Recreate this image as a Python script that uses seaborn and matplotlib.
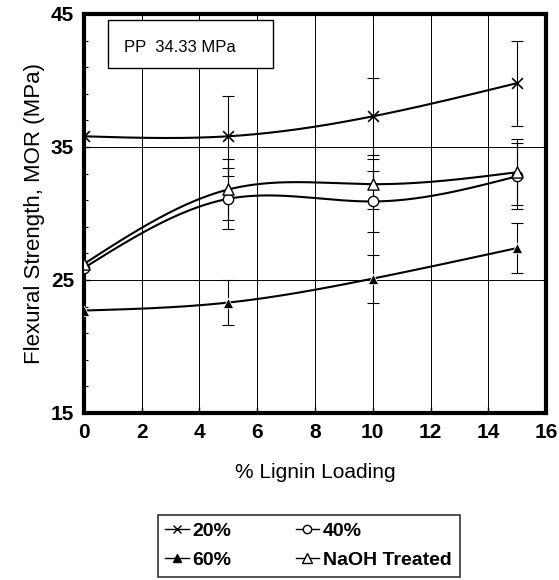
import numpy as np
import pandas as pd
import matplotlib
matplotlib.use("Agg")
import matplotlib.pyplot as plt
import seaborn as sns
from matplotlib.lines import Line2D
from matplotlib.patches import Rectangle

# datos
lignina = [0, 5, 10, 15]
series = ["20%", "40%", "60%", "NaOH Treated"]
mor_20 = [35.8, 35.8, 37.3, 39.8]
mor_40 = [25.9, 31.1, 30.9, 32.8]
mor_60 = [22.7, 23.3, 25.1, 27.4]
mor_naoh = [26.2, 31.8, 32.2, 33.1]
err_20 = [0.0, 3.0, 2.9, 3.2]
err_40 = [0.0, 2.3, 2.3, 2.5]
err_60 = [0.0, 1.7, 1.8, 1.9]
err_naoh = [0.0, 2.3, 1.9, 2.5]
pp_texto = "PP  34.33 MPa"

df = pd.DataFrame({
    "x": lignina * 4,
    "y": mor_20 + mor_40 + mor_60 + mor_naoh,
    "err": err_20 + err_40 + err_60 + err_naoh,
    "serie": sum([[s] * 4 for s in series], []),
})


def spline(x, y, n=200):
    # spline cubica natural, solo para dibujar la curva suave
    x = np.asarray(x, float)
    y = np.asarray(y, float)
    m = len(x)
    h = np.diff(x)
    A = np.zeros((m, m))
    b = np.zeros(m)
    A[0, 0] = A[-1, -1] = 1
    for i in range(1, m - 1):
        A[i, i - 1] = h[i - 1]
        A[i, i] = 2 * (h[i - 1] + h[i])
        A[i, i + 1] = h[i]
        b[i] = 6 * ((y[i + 1] - y[i]) / h[i] - (y[i] - y[i - 1]) / h[i - 1])
    M = np.linalg.solve(A, b)
    xs = np.linspace(x[0], x[-1], n)
    idx = np.clip(np.searchsorted(x, xs) - 1, 0, m - 2)
    x0, x1 = x[idx], x[idx + 1]
    hh = x1 - x0
    a = (x1 - xs) / hh
    c = (xs - x0) / hh
    ys = (a * y[idx] + c * y[idx + 1]
          + ((a ** 3 - a) * M[idx] + (c ** 3 - c) * M[idx + 1]) * hh ** 2 / 6)
    return xs, ys


plt.rcParams["font.family"] = ["Liberation Sans", "DejaVu Sans"]
fig = plt.figure(figsize=(5.59, 5.80), dpi=100)
ax = fig.add_axes([0.150, 0.288, 0.827, 0.688])

estilos = {
    "20%": dict(marker="x", s=60, color="black", linewidth=1.2),
    "40%": dict(marker="o", s=55, facecolor="white", edgecolor="black", linewidth=1.0),
    "60%": dict(marker="^", s=55, color="black"),
    "NaOH Treated": dict(marker="^", s=65, facecolor="white", edgecolor="black", linewidth=1.0),
}

for s in series:
    d = df[df["serie"] == s]
    xs, ys = spline(d["x"], d["y"])
    ax.plot(xs, ys, color="black", lw=1.5, zorder=3)
    e = d[d["err"] > 0]
    ax.errorbar(e["x"], e["y"], yerr=e["err"], fmt="none", ecolor="black",
                elinewidth=0.8, capsize=4, capthick=0.8, zorder=2)

for s in series:
    d = df[df["serie"] == s]
    sns.scatterplot(data=d, x="x", y="y", ax=ax, zorder=4, legend=False, **estilos[s])

ax.set_xlim(0, 16)
ax.set_ylim(15, 45)
ax.set_xticks(range(0, 17, 2))
ax.set_yticks([15, 25, 35, 45])
ax.set_yticks(range(17, 45, 2), minor=True)
ax.grid(True, which="major", color="black", lw=0.7)
ax.set_axisbelow(True)
for sp in ax.spines.values():
    sp.set_linewidth(3)
ax.tick_params(axis="both", which="major", labelsize=15, length=4, width=1,
               direction="in", pad=7)
ax.tick_params(axis="y", which="minor", length=3, width=0.8, direction="in")
for lab in ax.get_xticklabels() + ax.get_yticklabels():
    lab.set_fontweight("bold")
ax.set_xlabel("% Lignin Loading", fontsize=15, labelpad=15)
ax.set_ylabel("Flexural Strength, MOR (MPa)", fontsize=16, labelpad=4)

# recuadro del PP
ax.add_patch(Rectangle((0.83, 40.95), 5.7, 3.6, facecolor="white",
                       edgecolor="black", lw=1.0, zorder=6))
ax.text(1.38, 42.5, pp_texto, fontsize=12, va="center", ha="left", zorder=7)

# leyenda debajo
h20 = Line2D([], [], color="black", lw=1, marker="x", markersize=6)
h40 = Line2D([], [], color="black", lw=1, marker="o", markersize=6, markerfacecolor="white")
h60 = Line2D([], [], color="black", lw=1, marker="^", markersize=6)
hna = Line2D([], [], color="black", lw=1, marker="^", markersize=7, markerfacecolor="white")
leg = fig.legend([h20, h60, h40, hna], ["20%", "60%", "40%", "NaOH Treated"],
                 ncol=2, loc="center", bbox_to_anchor=(0.552, 0.059),
                 frameon=True, fancybox=False, edgecolor="black",
                 prop=dict(size=14, weight="bold"),
                 handlelength=1.2, handletextpad=0.2, columnspacing=3.3,
                 borderpad=0.4, labelspacing=0.6)
leg.get_frame().set_linewidth(1.2)

fig.savefig("out.png", dpi=100)
